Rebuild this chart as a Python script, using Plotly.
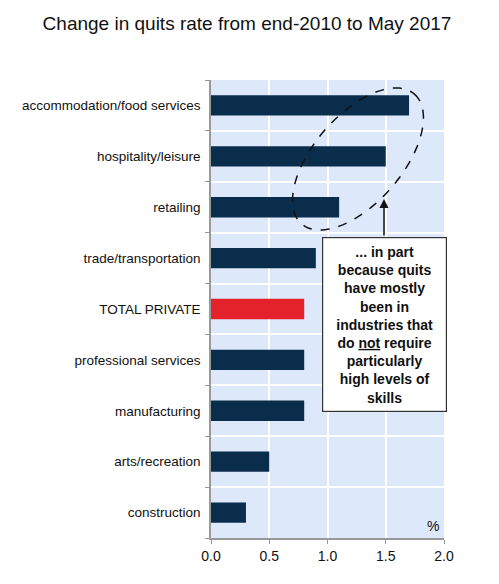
import numpy as np
import plotly.graph_objects as go

# data (top to bottom)
industries = [
    "accommodation/food services", "hospitality/leisure", "retailing",
    "trade/transportation", "TOTAL PRIVATE", "professional services",
    "manufacturing", "arts/recreation", "construction",
]
quits_change = [1.7, 1.5, 1.1, 0.9, 0.8, 0.8, 0.8, 0.5, 0.3]
x_ticks = [0.0, 0.5, 1.0, 1.5, 2.0]

NAVY = "#0b2d4c"
RED = "#e3222b"
FONT = "Liberation Sans, Arial"
n = len(industries)
ypos = list(range(n - 1, -1, -1))
colors = [RED if name == "TOTAL PRIVATE" else NAVY for name in industries]

W, H = 499, 584
OFF = 8  # page body margin
L, R, T, B = 203, 63, 72, 54
pw, ph = W - L - R, H - T - B


def to_paper(rx, ry):
    # screen pixel -> paper coords
    return (rx - OFF - L) / pw, 1 - (ry - OFF - T) / ph


fig = go.Figure(go.Bar(
    x=quits_change, y=ypos, orientation="h",
    marker=dict(color=colors, line_width=0), width=0.4,
))

# rotated dashed ellipse around the top three bars
cx, cy, a, b, ang = 358, 159, 86, 44, np.deg2rad(49)
t = np.linspace(0, 2 * np.pi, 90)
ex = cx + a * np.cos(t) * np.cos(ang) + b * np.sin(t) * np.sin(ang)
ey = cy - a * np.cos(t) * np.sin(ang) + b * np.sin(t) * np.cos(ang)
pts = [to_paper(x, y) for x, y in zip(ex, ey)]
path = "M " + " L ".join(f"{x:.4f},{y:.4f}" for x, y in pts) + " Z"
fig.add_shape(type="path", path=path, xref="paper", yref="paper",
              line=dict(color="#111111", width=1.5, dash="dash"))

box_text = ("<b>... in part<br>because quits<br>have mostly<br>been in<br>"
            "industries that<br>do <u>not</u> require<br>particularly<br>"
            "high levels of<br>skills</b>")
tip_x, tip_y = to_paper(384, 199)
fig.add_annotation(
    x=tip_x, y=tip_y, xref="paper", yref="paper",
    ax=0, ay=38, axref="pixel", ayref="pixel",
    text="", showarrow=True, arrowhead=2, arrowsize=1.2, arrowwidth=1.5,
    arrowcolor="#111111",
)
bx, by = to_paper(384.5, 237)
fig.add_annotation(
    x=bx, y=by, xref="paper", yref="paper",
    xanchor="center", yanchor="top", showarrow=False,
    text=box_text, align="center", width=117, height=167,
    font=dict(family=FONT, size=14, color="#111111"),
    bgcolor="white", bordercolor="#333333", borderwidth=1.2, borderpad=3,
)
fig.add_annotation(
    x=1.97, y=-0.47, xref="x", yref="y", text="%", showarrow=False,
    xanchor="right", yanchor="bottom",
    font=dict(family=FONT, size=14, color="#111111"),
)

fig.update_layout(
    width=W, height=H,
    margin=dict(l=L, r=R, t=T, b=B),
    paper_bgcolor="white", plot_bgcolor="#dde9fb",
    showlegend=False,
    title=dict(text="Change in quits rate from end-2010 to May 2017",
               x=239 / W, xanchor="center", y=1 - 15 / H, yanchor="middle",
               font=dict(family=FONT, size=19, color="#111111")),
    font=dict(family=FONT, size=13, color="#111111"),
    bargap=0.6,
)
fig.update_xaxes(
    range=[0, 2], tickvals=x_ticks, ticktext=[f"{v:.1f}" for v in x_ticks],
    showgrid=True, gridcolor="white", gridwidth=1.5, zeroline=False,
    showline=True, linecolor="#999999", linewidth=1.5,
    ticks="outside", tickcolor="#999999", ticklen=4,
    tickfont=dict(size=14, color="#111111"),
)
fig.update_yaxes(
    range=[-0.5, n - 0.5], tickvals=ypos, ticktext=industries,
    showgrid=False, zeroline=False,
    showline=True, linecolor="#999999", linewidth=1.5, ticks="",
    ticklabelstandoff=6,
    minor=dict(tickvals=[i - 0.5 for i in range(n + 1)], showgrid=True,
               gridcolor="white", gridwidth=1.5, ticks="outside",
               tickcolor="#999999", ticklen=4),
    tickfont=dict(size=13.5, color="#111111"),
)

fig.write_html("out.html")
